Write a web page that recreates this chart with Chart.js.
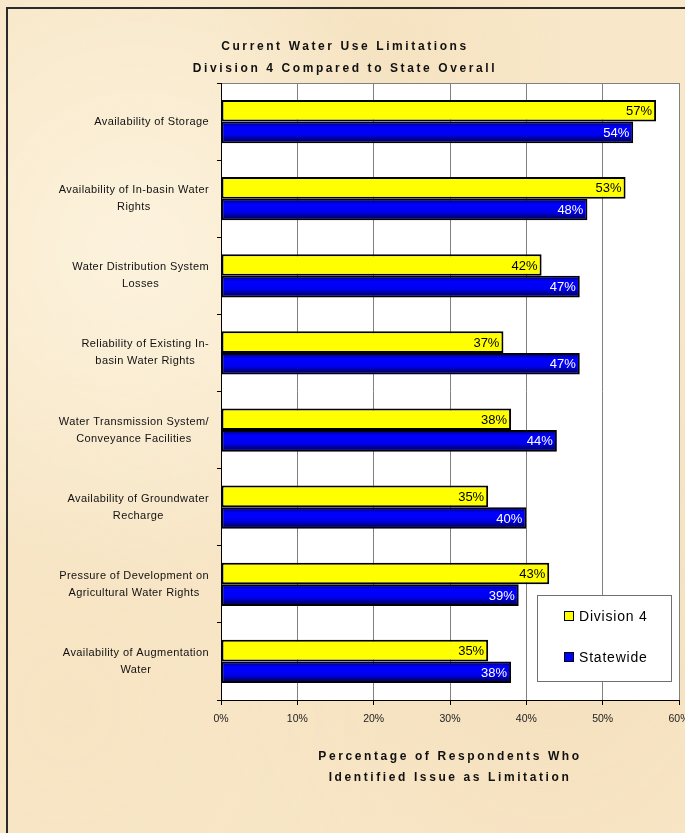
<!DOCTYPE html>
<html>
<head>
<meta charset="utf-8">
<script src="https://cdn.jsdelivr.net/npm/chart.js@4/dist/chart.umd.min.js"></script>
<style>
  html, body { margin: 0; padding: 0; }
  body {
    width: 685px; height: 833px; overflow: hidden;
    background:
      radial-gradient(ellipse at 20% 30%, rgba(255,250,235,0.6), transparent 40%),
      radial-gradient(ellipse at 80% 75%, rgba(240,215,175,0.45), transparent 45%),
      radial-gradient(ellipse at 55% 10%, rgba(242,222,185,0.5), transparent 35%),
      radial-gradient(ellipse at 10% 85%, rgba(245,225,190,0.5), transparent 40%),
      #F8E7C8;
  }
  #frame {
    position: absolute; left: 6px; top: 7px; right: -4px; bottom: -4px;
    border-left: 2px solid #2b2b2b; border-top: 2px solid #2b2b2b;
  }
  canvas { position: absolute; left: 0; top: 0; }
</style>
</head>
<body>
<div id="frame"></div>
<canvas id="chart" width="685" height="833"></canvas>
<script>
const categories = [
  ["Availability of Storage"],
  ["Availability of In-basin Water", "Rights"],
  ["Water Distribution System", "Losses"],
  ["Reliability of Existing In-", "basin Water Rights"],
  ["Water Transmission System/", "Conveyance Facilities"],
  ["Availability of Groundwater", "Recharge"],
  ["Pressure of Development on", "Agricultural Water Rights"],
  ["Availability of Augmentation", "Water"]
];
const division4 = [57, 53, 42, 37, 38, 35, 43, 35];
const statewide = [54, 48, 47, 47, 44, 40, 39, 38];
const seriesNames = ["Division 4", "Statewide"];
const xTicks = [0, 10, 20, 30, 40, 50, 60];
const titleLines = ["Current Water Use Limitations", "Division 4 Compared to State Overall"];
const xTitleLines = ["Percentage of Respondents Who", "Identified Issue as Limitation"];

const FONT = "'Liberation Sans', Arial, sans-serif";

const decorations = {
  id: "decorations",
  beforeDraw(chart) {
    const { ctx, chartArea: a } = chart;
    ctx.save();
    ctx.fillStyle = "#ffffff";
    ctx.fillRect(a.left, a.top, a.right - a.left, a.bottom - a.top);
    ctx.strokeStyle = "#808080";
    ctx.lineWidth = 1;
    ctx.beginPath();
    ctx.moveTo(a.left, a.top + 0.5);
    ctx.lineTo(a.right + 0.5, a.top + 0.5);
    ctx.lineTo(a.right + 0.5, a.bottom);
    ctx.stroke();
    ctx.restore();
  },
  afterDatasetsDraw(chart) {
    const { ctx } = chart;
    ctx.save();
    // shading on the blue bars
    chart.getDatasetMeta(1).data.forEach(bar => {
      const h = bar.height, top = bar.y - h / 2 + 2, bot = bar.y + h / 2 - 2;
      const g = ctx.createLinearGradient(0, top, 0, bot);
      g.addColorStop(0, "#00009a");
      g.addColorStop(0.2, "#0000ff");
      g.addColorStop(0.65, "#0000f0");
      g.addColorStop(1, "#000060");
      ctx.fillStyle = g;
      ctx.fillRect(bar.base + 2, top, bar.x - bar.base - 4, bot - top);
    });

    ctx.font = "13px " + FONT;
    ctx.textAlign = "right";
    ctx.textBaseline = "middle";
    chart.data.datasets.forEach((ds, di) => {
      const meta = chart.getDatasetMeta(di);
      ctx.fillStyle = di === 0 ? "#000000" : "#ffffff";
      meta.data.forEach((bar, i) => {
        ctx.fillText(ds.data[i] + "%", bar.x - 4, bar.y + 1);
      });
    });
    ctx.restore();
  },
  afterDraw(chart) {
    const { ctx, chartArea: a } = chart;
    const y = chart.scales.y;
    ctx.save();
    ctx.fillStyle = "#111111";

    // category labels: block right-aligned, lines centred within block
    ctx.font = "11px " + FONT;
    ctx.letterSpacing = "0.4px";
    ctx.textBaseline = "middle";
    ctx.textAlign = "center";
    chart.data.labels.forEach((lines, i) => {
      const cy = y.getPixelForValue(i);
      const w = Math.max(...lines.map(l => ctx.measureText(l).width));
      const cx = 209 - w / 2;
      const top = cy - (lines.length - 1) * 17 / 2;
      lines.forEach((l, k) => ctx.fillText(l, cx, top + k * 17));
    });

    // chart title
    ctx.font = "bold 12px " + FONT;
    ctx.letterSpacing = "2.6px";
    ctx.fillText(titleLines[0], 345, 47);
    ctx.fillText(titleLines[1], 345, 69);

    // x axis title
    const mid = (a.left + a.right) / 2;
    ctx.fillText(xTitleLines[0], mid, 757);
    ctx.fillText(xTitleLines[1], mid, 778);

    // legend
    const lx = 537, ly = 595, lw = 134, lh = 86;
    ctx.letterSpacing = "0.8px";
    ctx.fillStyle = "#ffffff";
    ctx.fillRect(lx, ly, lw, lh);
    ctx.strokeStyle = "#707070";
    ctx.lineWidth = 1;
    ctx.strokeRect(lx + 0.5, ly + 0.5, lw, lh);
    ctx.font = "14px " + FONT;
    ctx.textAlign = "left";
    chart.data.datasets.forEach((ds, di) => {
      const ry = 616 + di * 41;
      ctx.fillStyle = ds.backgroundColor;
      ctx.fillRect(565, ry - 4, 8, 8);
      ctx.strokeStyle = "#000000";
      ctx.strokeRect(564.5, ry - 4.5, 9, 9);
      ctx.fillStyle = "#000000";
      ctx.fillText(ds.label, 579, ry + 1);
    });
    ctx.restore();
  }
};

new Chart(document.getElementById("chart"), {
  type: "bar",
  data: {
    labels: categories,
    datasets: [
      { label: seriesNames[0], data: division4, backgroundColor: "#FFFF00" },
      { label: seriesNames[1], data: statewide, backgroundColor: "#0000FF" }
    ]
  },
  options: {
    indexAxis: "y",
    responsive: false,
    devicePixelRatio: 1,
    animation: false,
    layout: { autoPadding: false, padding: { left: 0, right: 6, top: 83, bottom: 0 } },
    datasets: {
      bar: {
        categoryPercentage: 0.56,
        barPercentage: 1,
        borderColor: "#000000",
        borderWidth: 2,
        borderSkipped: false
      }
    },
    plugins: {
      legend: { display: false },
      tooltip: { enabled: false },
      title: { display: false }
    },
    scales: {
      x: {
        min: xTicks[0],
        max: xTicks[xTicks.length - 1],
        afterFit: s => { s.height = 133; s.paddingLeft = 0; s.paddingRight = 0; },
        afterBuildTicks: s => { s.ticks = xTicks.map(v => ({ value: v })); },
        ticks: {
          callback: v => v + "%",
          font: { family: FONT, size: 10.5 },
          color: "#222222",
          padding: 8,
          maxRotation: 0
        },
        grid: { color: "#808080", tickColor: "#000000", tickLength: 5 },
        border: { color: "#000000", width: 1 }
      },
      y: {
        afterFit: s => { s.width = 221; },
        ticks: { display: false },
        grid: { drawOnChartArea: false, tickColor: "#000000", tickLength: 4, offset: true },
        border: { color: "#000000", width: 1 }
      }
    }
  },
  plugins: [decorations]
});
</script>
</body>
</html>
